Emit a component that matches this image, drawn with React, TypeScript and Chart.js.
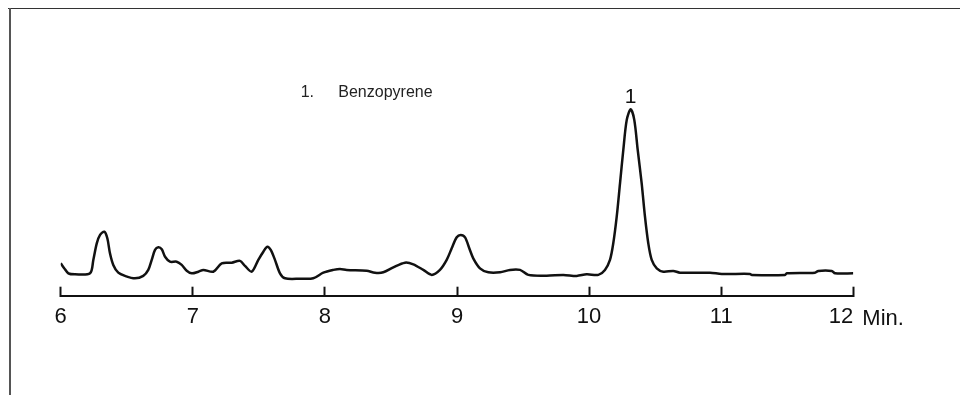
import React, { useEffect, useRef } from "react";
import { Chart, registerables } from "chart.js";

Chart.register(...registerables);

// Retention time (min)
const retentionTimes = [
  6.0, 6.025, 6.058, 6.108, 6.222, 6.247, 6.273, 6.298, 6.33, 6.353, 6.373, 6.398, 6.436, 6.487,
  6.562, 6.625, 6.663, 6.689, 6.714, 6.739, 6.765, 6.79, 6.827, 6.878, 6.916, 6.954, 6.992, 7.042,
  7.08, 7.155, 7.219, 7.295, 7.357, 7.395, 7.446, 7.496, 7.534, 7.564, 7.59, 7.622, 7.66, 7.698,
  7.812, 7.912, 7.988, 8.064, 8.114, 8.165, 8.316, 8.379, 8.442, 8.518, 8.606, 8.669, 8.745, 8.809,
  8.871, 8.922, 8.96, 8.998, 9.028, 9.061, 9.093, 9.123, 9.174, 9.237, 9.326, 9.401, 9.477, 9.54,
  9.679, 9.805, 9.906, 9.982, 10.07, 10.12, 10.158, 10.183, 10.209, 10.234, 10.259, 10.285, 10.315,
  10.342, 10.368, 10.398, 10.423, 10.448, 10.474, 10.512, 10.562, 10.637, 10.688, 10.915, 11.004,
  11.218, 11.232, 11.483, 11.496, 11.71, 11.735, 11.837, 11.862, 12.0,
];

// Detector signal (arbitrary units)
const signal = [
  16.2, 13.9, 11.2, 10.7, 11.2, 17.9, 26.2, 30.4, 32.0, 28.7, 21.2, 15.4, 11.5, 9.9,
  8.7, 9.9, 12.9, 17.9, 22.9, 24.2, 23.2, 19.5, 17.0, 17.0, 15.4, 12.5, 11.2, 12.0,
  12.9, 12.0, 16.2, 16.5, 17.4, 14.9, 12.0, 17.9, 22.0, 24.5, 22.9, 17.9, 11.2, 8.7,
  8.5, 8.7, 11.5, 12.9, 13.4, 12.9, 12.5, 11.5, 11.7, 14.2, 16.5, 15.7, 12.9, 10.4,
  12.9, 17.9, 23.7, 29.2, 30.4, 29.2, 23.7, 18.7, 13.7, 11.7, 11.7, 12.9, 12.9, 10.4,
  10.0, 10.4, 9.9, 10.7, 10.4, 12.9, 17.9, 26.2, 39.5, 56.2, 72.9, 87.9, 93.2,
  87.9, 72.9, 56.2, 39.5, 26.2, 17.9, 13.7, 12.0, 12.4, 11.5, 11.5, 10.9,
  10.9, 10.4, 10.4, 11.2, 11.5, 12.4, 12.4, 11.2, 11.2,
];

const xTicks = [6, 7, 8, 9, 10, 11, 12];
const axisUnit = "Min.";
const peakNumbers = ["1"];
const peakTimes = [10.315];
const peakHeights = [93.2];
const compounds = ["Benzopyrene"];

const FONT = '"Liberation Sans", Arial, Helvetica, sans-serif';

const annotate = {
  id: "annotate",
  afterDraw(chart: any) {
    const { ctx } = chart;
    const x = chart.scales.x;
    const y = chart.scales.y;
    ctx.save();
    ctx.fillStyle = "#111";
    ctx.textBaseline = "alphabetic";
    // peak numbers
    ctx.textAlign = "center";
    ctx.font = `21px ${FONT}`;
    peakTimes.forEach((t, i) => {
      ctx.fillText(peakNumbers[i], x.getPixelForValue(t), y.getPixelForValue(peakHeights[i]) - 6);
    });
    // compound list
    ctx.textAlign = "left";
    ctx.font = `16px ${FONT}`;
    ctx.fillStyle = "#222";
    compounds.forEach((name, i) => {
      const yy = 89.3 + i * 20;
      ctx.fillText(`${i + 1}.`, 292.7, yy);
      ctx.fillText(name, 330.3, yy);
    });
    // axis unit
    ctx.fillStyle = "#111";
    ctx.font = `22px ${FONT}`;
    ctx.fillText(axisUnit, x.getPixelForValue(xTicks[xTicks.length - 1]) + 9, 317);
    ctx.restore();
  },
};

export default function App() {
  const ref = useRef<HTMLCanvasElement | null>(null);

  useEffect(() => {
    if (!ref.current) return;
    const chart = new Chart(ref.current, {
      type: "line",
      data: {
        datasets: [
          {
            data: retentionTimes.map((t, i) => ({ x: t, y: signal[i] })),
            borderColor: "#111",
            borderWidth: 2.5,
            pointRadius: 0,
            tension: 0.3,
            fill: false,
          },
        ],
      },
      options: {
        animation: false,
        responsive: false,
        devicePixelRatio: 1,
        layout: { padding: { left: 52.7, right: 114.7, top: 87.7, bottom: 59.3 } },
        plugins: { legend: { display: false }, tooltip: { enabled: false } },
        scales: {
          x: {
            type: "linear",
            min: 6,
            max: 12,
            afterBuildTicks: (scale: any) => {
              scale.ticks = xTicks.map((v) => ({ value: v }));
            },
            afterFit: (scale: any) => {
              scale.height = 40;
            },
            border: { display: true, color: "#111", width: 2 },
            grid: {
              display: true,
              drawOnChartArea: false,
              drawTicks: true,
              tickLength: -9,
              tickWidth: 2,
              tickColor: "#111",
              color: "#111",
            },
            ticks: {
              color: "#111",
              padding: 17.5,
              maxRotation: 0,
              autoSkip: false,
              font: { family: FONT, size: 22 },
              callback: (v: any, i: number) =>
                i === xTicks.length - 1 ? `${v}\u2007\u2007` : `${v}`,
            },
          },
          y: {
            display: false,
            min: 0,
            max: 100,
          },
        },
      },
      plugins: [annotate],
    });
    return () => chart.destroy();
  }, []);

  return (
    <div style={{ position: "relative", width: 960, height: 387 }}>
      <div style={{ position: "absolute", left: 0, top: -1, width: 960, height: 2, background: "#333" }} />
      <div style={{ position: "absolute", left: 1, top: 0, width: 2, height: 387, background: "#555" }} />
      <canvas ref={ref} width={960} height={387} style={{ position: "absolute", left: 0, top: 0 }} />
    </div>
  );
}
